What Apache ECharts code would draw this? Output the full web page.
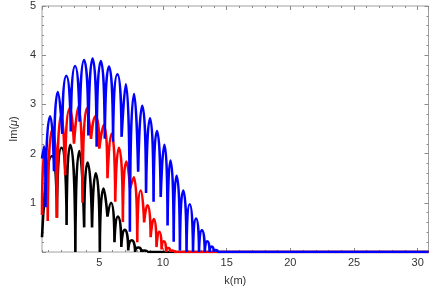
<!DOCTYPE html>
<html>
<head>
<meta charset="utf-8">
<script src="https://cdn.jsdelivr.net/npm/echarts@6/dist/echarts.min.js"></script>
<style>html,body{margin:0;padding:0;background:#fff}#c{width:432px;height:291px}</style>
</head>
<body>
<div id="c"></div>
<script>
// Axis range / ticks
const xMin = 0.5, xMax = 30.85;
const yMin = 0, yMax = 5;

// Blue series: dips (arch boundaries) and peaks
const blueDipK = [0.50, 0.78, 1.44, 2.09, 2.76, 3.45, 4.14, 4.79, 5.43, 6.08, 6.75, 7.40, 8.05, 8.67, 9.26, 9.82, 10.36, 10.84, 11.33, 11.85, 12.36, 12.83, 13.28, 13.66, 13.98, 14.29];
const blueDipV = [1.90, 0.91, 1.64, 2.40, 2.45, 2.65, 2.37, 2.14, 2.30, 2.24, 2.34, 0.41, 1.63, 1.20, 1.02, 1.12, 0.54, 0.21, 0.03, 0, 0, 0, 0, 0, 0, 0];
const bluePeakK = [0.67, 1.14, 1.74, 2.41, 3.10, 3.80, 4.47, 5.12, 5.76, 6.42, 7.08, 7.73, 8.37, 8.98, 9.53, 10.11, 10.59, 11.07, 11.59, 12.10, 12.60, 13.06, 13.48, 13.83, 14.14];
const bluePeakV = [2.15, 2.76, 3.25, 3.58, 3.78, 3.90, 3.93, 3.88, 3.77, 3.61, 3.41, 3.21, 2.97, 2.72, 2.46, 2.18, 1.86, 1.55, 1.25, 0.97, 0.68, 0.44, 0.22, 0.11, 0.04];

// Red series
const redDipK = [0.50, 0.95, 1.67, 2.32, 3.01, 3.68, 4.35, 5.00, 5.64, 6.25, 6.85, 7.42, 7.98, 8.52, 9.03, 9.49, 9.89, 10.25, 10.57, 10.87];
const redDipV = [0.75, 0.63, 0.69, 1.56, 2.20, 1.00, 2.30, 2.10, 1.50, 1.02, 0.61, 1.30, 0.20, 0.60, 0.30, 0.10, 0.05, 0, 0, 0];
const redPeakK = [0.72, 1.32, 2.01, 2.68, 3.35, 4.02, 4.70, 5.35, 5.96, 6.54, 7.13, 7.71, 8.25, 8.78, 9.28, 9.71, 10.07, 10.41, 10.72];
const redPeakV = [2.05, 2.50, 2.79, 2.92, 2.95, 2.92, 2.76, 2.58, 2.40, 2.12, 1.84, 1.52, 1.25, 0.95, 0.67, 0.41, 0.22, 0.08, 0.03];

// Black series
const blackDipK = [0.50, 1.67, 2.43, 3.12, 3.81, 4.43, 5.04, 5.64, 6.19, 6.73, 7.27, 7.81, 8.30, 8.76];
const blackDipV = [0.30, 0.70, 0.55, 0, 0.50, 0.50, 0, 0.72, 0.20, 0.10, 0.03, 0, 0, 0];
const blackPeakK = [1.28, 2.03, 2.72, 3.43, 4.08, 4.72, 5.33, 5.92, 6.46, 7.00, 7.54, 8.07, 8.53];
const blackPeakV = [1.95, 2.12, 2.18, 2.05, 1.82, 1.60, 1.29, 1.00, 0.72, 0.45, 0.24, 0.09, 0.03];

// Flat tail value after the last arch
const tailV = 0;

function buildArches(dk, dv, pk, pv) {
  const data = [];
  for (let i = 0; i < pk.length; i++) {
    data.push([dk[i], dv[i]], [pk[i], pv[i]], [dk[i + 1], dv[i + 1]], [dk[i + 1], '-']);
  }
  data.push([dk[dk.length - 1], tailV], [xMax, tailV]);
  return data;
}

const FONT = '"Liberation Sans", Arial, sans-serif';
const frameColor = '#a0a0a0';
const tickColor = '#8a8a8a';

function xAx(pos, split, len, labels, name) {
  return {
    type: 'value', position: pos, min: xMin, max: xMax, splitNumber: split,
    axisLine: { show: false },
    axisTick: { show: true, inside: true, length: len, lineStyle: { color: tickColor, width: 1 } },
    axisLabel: { show: labels, showMinLabel: false, showMaxLabel: false, color: '#333', fontSize: 11, fontFamily: FONT, margin: 5 },
    splitLine: { show: false },
    name: name || '', nameLocation: 'middle', nameGap: 23,
    nameTextStyle: { color: '#333', fontSize: 11, fontFamily: FONT }
  };
}
function yAx(pos, labels, name) {
  return {
    type: 'value', position: pos, min: yMin, max: yMax, interval: 1,
    axisLine: { show: false },
    axisTick: { show: true, inside: true, length: 4, lineStyle: { color: tickColor, width: 1 } },
    minorTick: { show: true, splitNumber: 5, length: 2, lineStyle: { color: tickColor, width: 1 } },
    axisLabel: { show: labels, showMinLabel: false, color: '#333', fontSize: 11, fontFamily: FONT, margin: 6 },
    splitLine: { show: false },
    name: name || '', nameLocation: 'middle', nameGap: 22,
    nameTextStyle: { color: '#333', fontSize: 11, fontFamily: FONT, rich: { i: { fontStyle: 'italic', fontSize: 11, fontFamily: FONT, color: '#333' } } }
  };
}

function lineSeries(data, color) {
  return {
    type: 'line', data: data, xAxisIndex: 0, yAxisIndex: 0,
    showSymbol: false, symbol: 'none', smooth: 1, connectNulls: false,
    lineStyle: { color: color, width: 2.6 }, itemStyle: { color: color },
    animation: false, silent: true
  };
}

const chart = echarts.init(document.getElementById('c'), null, { renderer: 'canvas' });
chart.setOption({
  animation: false,
  grid: { left: 33, right: 3.5, top: 6, bottom: 39, show: true, borderColor: frameColor, borderWidth: 1, backgroundColor: 'transparent' },
  xAxis: [
    xAx('bottom', 6, 4, true, 'k(m)'),
    xAx('bottom', 30, 2, false),
    xAx('top', 6, 4, false),
    xAx('top', 30, 2, false)
  ],
  yAxis: [
    yAx('left', true, 'Im({i|μ})'),
    yAx('right', false)
  ],
  series: [
    lineSeries(buildArches(blackDipK, blackDipV, blackPeakK, blackPeakV), '#000000'),
    lineSeries(buildArches(redDipK, redDipV, redPeakK, redPeakV), '#ff0000'),
    lineSeries(buildArches(blueDipK, blueDipV, bluePeakK, bluePeakV), '#0000ff')
  ]
});
</script>
</body>
</html>
